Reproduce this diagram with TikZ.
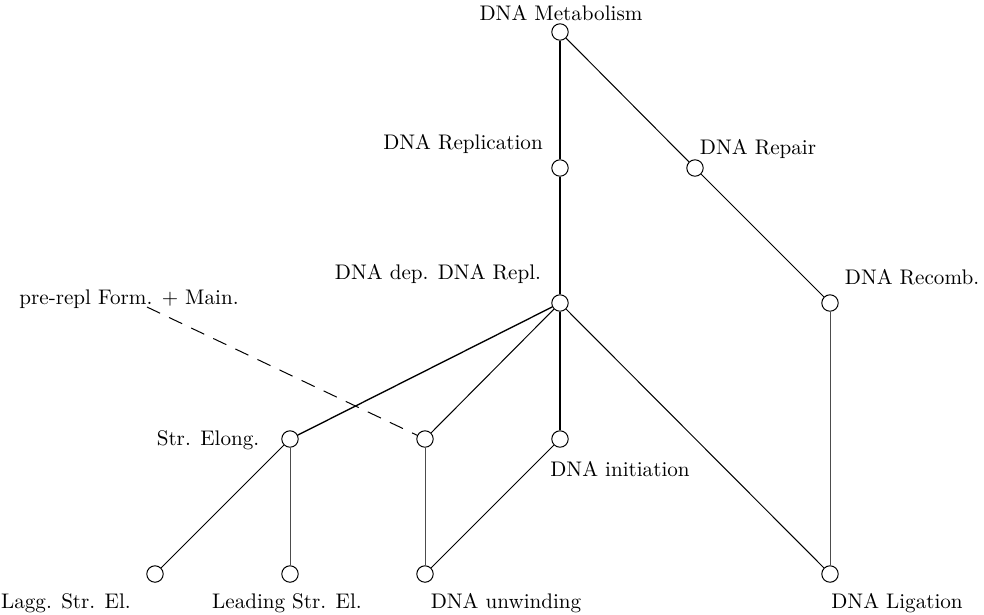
\documentclass[tikz,border=0pt]{standalone}
\begin{document}
\begin{tikzpicture}[x=0.45pt,y=-0.45pt,
  vert/.style={circle,draw,line width=0.45pt,minimum size=7.4pt,inner sep=0pt,fill=white},
  lbl/.style={inner sep=0pt,anchor=mid,font=\normalsize,scale=0.95},
  thk/.style={line width=0.6pt},
  nrm/.style={line width=0.45pt},
  thn/.style={line width=0.4pt,black!70},
  dsh/.style={line width=0.45pt,dash pattern=on 6.5pt off 4.5pt}]
\useasboundingbox (0,0) rectangle (984,614);
% vertices
\node[vert] (met) at (560,32) {};
\node[vert] (rep) at (560,168) {};
\node[vert] (repair) at (695,168) {};
\node[vert] (dep) at (560,303) {};
\node[vert] (recomb) at (830,303) {};
\node[vert] (elong) at (290,439) {};
\node[vert] (x) at (425,439) {};
\node[vert] (init) at (560,439) {};
\node[vert] (lagg) at (155,574) {};
\node[vert] (lead) at (290,574) {};
\node[vert] (unw) at (425,574) {};
\node[vert] (lig) at (830,574) {};
\coordinate (pre) at (147,307);
% labels
\node[lbl] (tmet) at (561,16) {DNA Metabolism};
\node[lbl] (trep) at (463,145) {DNA Replication};
\node[lbl] (trepair) at (758,150) {DNA Repair};
\node[lbl] (tdep) at (438,275) {DNA dep. DNA Repl.};
\node[lbl] (trecomb) at (912,280) {DNA Recomb.};
\node[lbl] (tpre) at (129,300) {pre-repl Form. + Main.};
\node[lbl] (telong) at (208,441) {Str. Elong.};
\node[lbl] (tinit) at (620,472) {DNA initiation};
\node[lbl] (tlagg) at (66,604) {Lagg. Str. El.};
\node[lbl] (tlead) at (287,604) {Leading Str. El.};
\node[lbl] (tunw) at (506,604) {DNA unwinding};
\node[lbl] (tlig) at (897,604) {DNA Ligation};
% edges
\draw[thk] (met) -- (rep);
\draw[nrm] (met) -- (repair);
\draw[thk] (rep) -- (dep);
\draw[nrm] (repair) -- (recomb);
\draw[thk] (dep) -- (elong);
\draw[nrm] (dep) -- (x);
\draw[thk] (dep) -- (init);
\draw[nrm] (dep) -- (lig);
\draw[thn] (recomb) -- (lig);
\draw[nrm] (elong) -- (lagg);
\draw[thn] (elong) -- (lead);
\draw[thn] (x) -- (unw);
\draw[nrm] (init) -- (unw);
\draw[dsh] (pre) -- (x);
\end{tikzpicture}
\end{document}
